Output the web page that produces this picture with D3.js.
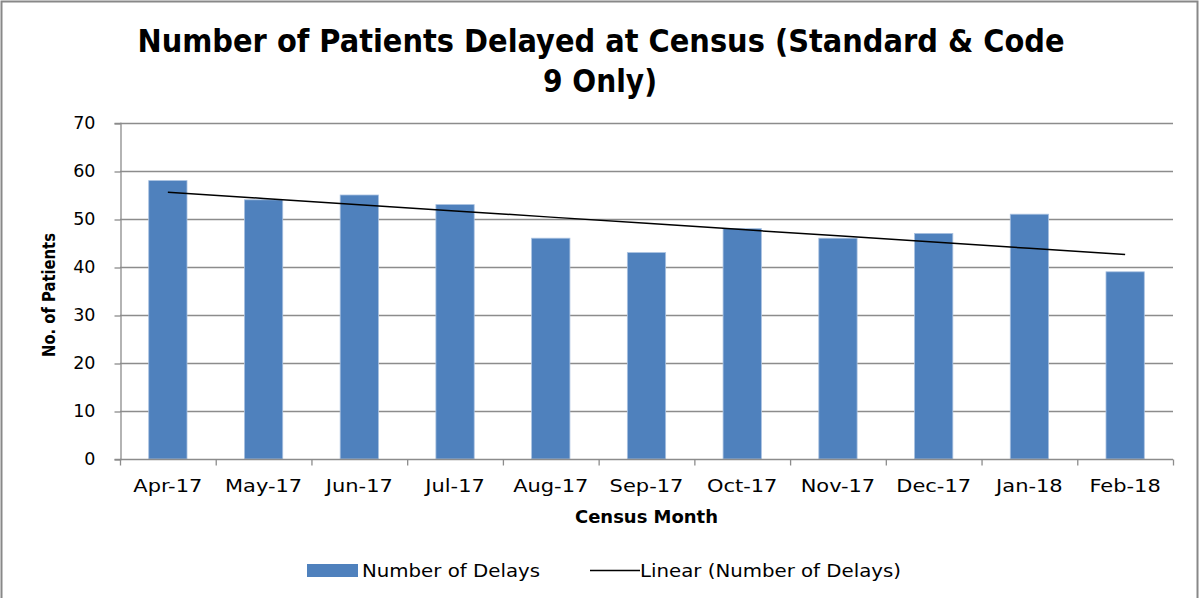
<!DOCTYPE html>
<html>
<head>
<meta charset="utf-8">
<script src="https://cdn.jsdelivr.net/npm/d3@7"></script>
<style>
  body { margin: 0; background: #fff; }
  svg { display: block; }
</style>
</head>
<body>
<svg width="1200" height="598"></svg>
<script>
// data
const months = ["Apr-17", "May-17", "Jun-17", "Jul-17", "Aug-17", "Sep-17", "Oct-17", "Nov-17", "Dec-17", "Jan-18", "Feb-18"];
const delays = [58, 54, 55, 53, 46, 43, 48, 46, 47, 51, 39];
const yTicks = [0, 10, 20, 30, 40, 50, 60, 70];

const narrow = "'Liberation Sans Narrow', 'DejaVu Sans Condensed', 'Liberation Sans', sans-serif";

const plot = {left: 120, right: 1173, top: 123, bottom: 459};

const svg = d3.select("svg");

// squeeze a text to a given width, keeping its font size (glyph height)
function squeeze(sel, target) {
  const w = sel.node().getComputedTextLength();
  if (w > 0) sel.attr("textLength", target).attr("lengthAdjust", "spacingAndGlyphs");
  return sel;
}

// chart border
svg.append("rect")
  .attr("x", 1.5).attr("y", 1.5)
  .attr("width", 1196).attr("height", 620)
  .attr("fill", "#fff")
  .attr("stroke", "#888").attr("stroke-width", 2);

// title
const t1 = svg.append("text")
  .attr("x", 601).attr("y", 52)
  .attr("text-anchor", "middle")
  .attr("font-family", narrow).attr("font-weight", "bold")
  .attr("font-size", 32)
  .text("Number of Patients Delayed at Census (Standard & Code");
squeeze(t1, 927);
const t2 = svg.append("text")
  .attr("x", 600).attr("y", 92)
  .attr("text-anchor", "middle")
  .attr("font-family", narrow).attr("font-weight", "bold")
  .attr("font-size", 32)
  .text("9 Only)");
squeeze(t2, 114);

// scales
const x = d3.scaleBand()
  .domain(months)
  .range([plot.left, plot.right])
  .paddingInner(0.6)
  .paddingOuter(0.3);

const xb = d3.scaleBand().domain(months).range([plot.left, plot.right]);

const y = d3.scaleLinear()
  .domain([0, 70])
  .range([plot.bottom, plot.top]);

// gridlines
svg.append("g").selectAll("line")
  .data(yTicks.filter(d => d > 0))
  .enter().append("line")
  .attr("x1", plot.left).attr("x2", plot.right)
  .attr("y1", d => y(d) + 0.5).attr("y2", d => y(d) + 0.5)
  .attr("stroke", "#8c8c8c").attr("stroke-width", 1.3);

// y axis
const yAxis = svg.append("g")
  .attr("transform", `translate(${plot.left + 0.5},0)`)
  .call(d3.axisLeft(y).tickValues(yTicks).tickSize(6).tickPadding(19));
yAxis.select(".domain").attr("stroke", "#8c8c8c").attr("stroke-width", 1.3);
yAxis.selectAll(".tick line").attr("stroke", "#8c8c8c").attr("stroke-width", 1.3)
  .attr("transform", "translate(0,0.5)");
yAxis.selectAll(".tick text")
  .attr("font-family", "'DejaVu Sans', sans-serif")
  .attr("font-size", 17.5)
  .attr("fill", "#000");

// bars
svg.append("g").selectAll("rect")
  .data(delays)
  .enter().append("rect")
  .attr("x", (d, i) => x(months[i]))
  .attr("y", d => y(d))
  .attr("width", x.bandwidth())
  .attr("height", d => y(0) - y(d))
  .attr("fill", "#4f81bd")
  .attr("stroke", "#a9c1e0")
  .attr("stroke-width", 0.8);

// x axis
const xAxisG = svg.append("g")
  .attr("transform", `translate(0,${plot.bottom + 0.5})`);
xAxisG.append("line")
  .attr("x1", plot.left).attr("x2", plot.right)
  .attr("stroke", "#8c8c8c").attr("stroke-width", 1.3);
const boundaries = months.map(m => xb(m)).concat([plot.right]);
xAxisG.selectAll("line.tk")
  .data(boundaries)
  .enter().append("line")
  .attr("class", "tk")
  .attr("x1", d => d + 0.5).attr("x2", d => d + 0.5)
  .attr("y1", 0).attr("y2", 6)
  .attr("stroke", "#8c8c8c").attr("stroke-width", 1.3);
const xl = xAxisG.selectAll("text")
  .data(months)
  .enter().append("text")
  .attr("x", d => xb(d) + xb.bandwidth() / 2)
  .attr("y", 32)
  .attr("text-anchor", "middle")
  .attr("font-family", narrow)
  .attr("font-size", 18.5)
  .text(d => d);
// widen every label by the factor that makes "Apr-17" about 69px
const k = 69 / xl.nodes()[0].getComputedTextLength();
xl.each(function() {
  const s = d3.select(this);
  squeeze(s, this.getComputedTextLength() * k);
});

// axis titles
const xt = svg.append("text")
  .attr("x", (plot.left + plot.right) / 2).attr("y", 523)
  .attr("text-anchor", "middle")
  .attr("font-family", narrow).attr("font-weight", "bold")
  .attr("font-size", 18)
  .text("Census Month");
squeeze(xt, 143);

const yt = svg.append("text")
  .attr("transform", `translate(55,${(plot.top + plot.bottom) / 2 + 4}) rotate(-90)`)
  .attr("text-anchor", "middle")
  .attr("font-family", narrow).attr("font-weight", "bold")
  .attr("font-size", 17)
  .text("No. of Patients");
squeeze(yt, 124);

// linear trendline (least squares on the bar values)
const n = delays.length;
const xs = d3.range(n);
const mx = d3.mean(xs), my = d3.mean(delays);
const slope = d3.sum(xs, i => (i - mx) * (delays[i] - my)) / d3.sum(xs, i => (i - mx) * (i - mx));
const icpt = my - slope * mx;
const trend = xs.map(i => ({m: months[i], v: icpt + slope * i}));

svg.append("path")
  .datum(trend)
  .attr("fill", "none")
  .attr("stroke", "#000")
  .attr("stroke-width", 1.5)
  .attr("d", d3.line()
    .x(d => xb(d.m) + xb.bandwidth() / 2)
    .y(d => y(d.v)));

// legend
const lg = svg.append("g");
lg.append("rect")
  .attr("x", 307).attr("y", 564)
  .attr("width", 51).attr("height", 13)
  .attr("fill", "#4f81bd");
const l1 = lg.append("text")
  .attr("x", 362).attr("y", 577)
  .attr("font-family", narrow)
  .attr("font-size", 18)
  .text("Number of Delays");
squeeze(l1, 178);
lg.append("line")
  .attr("x1", 590).attr("x2", 640)
  .attr("y1", 570.5).attr("y2", 570.5)
  .attr("stroke", "#000").attr("stroke-width", 1.5);
const l2 = lg.append("text")
  .attr("x", 640).attr("y", 577)
  .attr("font-family", narrow)
  .attr("font-size", 18)
  .text("Linear (Number of Delays)");
squeeze(l2, 261);
</script>
</body>
</html>
